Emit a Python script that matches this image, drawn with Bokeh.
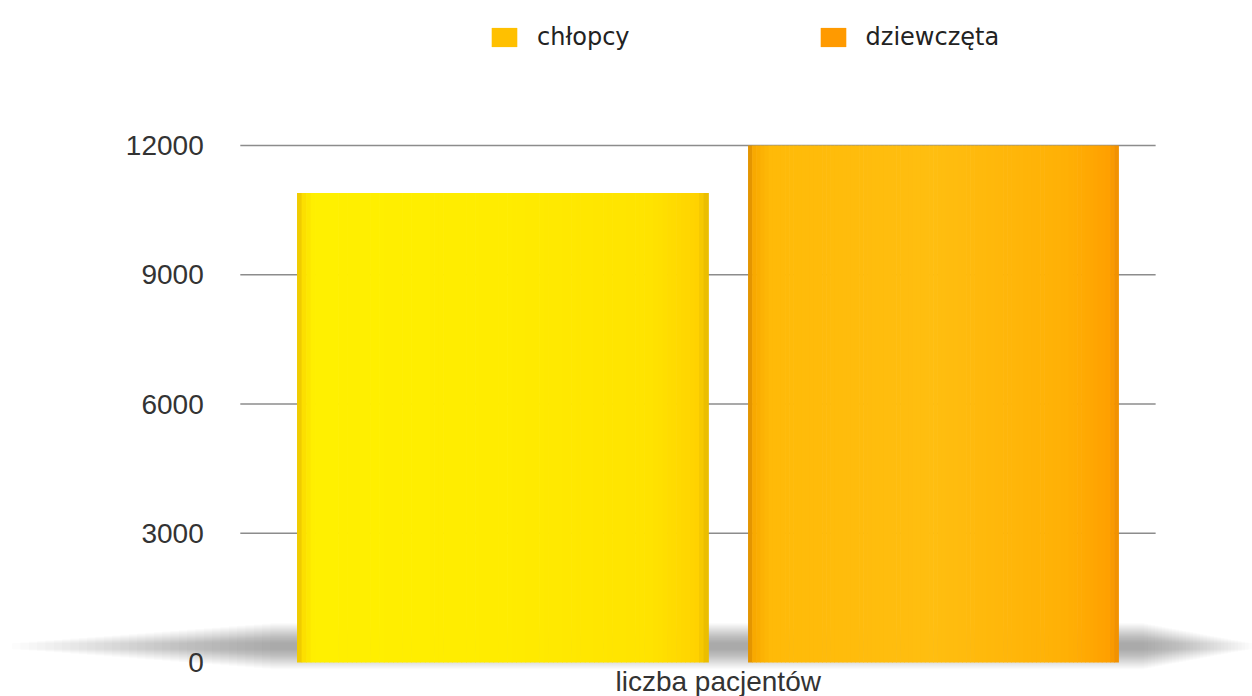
import numpy as np
from bokeh.plotting import figure
from bokeh.models import Range1d, ColumnDataSource, Legend, LegendItem
from bokeh.core.properties import value
from bokeh.embed import file_html
from bokeh.resources import INLINE

# ---- data -------------------------------------------------------------
categories = ["chłopcy", "dziewczęta"]
patients = [10900, 12000]
legend_colors = ["#FFC000", "#FF9A00"]
y_ticks = [0, 3000, 6000, 9000, 12000]
y_tick_labels = ["0", "3000", "6000", "9000", "12000"]
x_title = "liczba pacjentów"

# ---- layout / style constants ----------------------------------------
W, H = 1252, 696
BAR_WIDTHS = [0.955, 0.86]          # front bar a bit wider than the back one
GRID_X = (-0.61, 1.516)             # extent of the horizontal grid lines
TICK_X = -0.695                     # right edge of the y tick labels
SHADOW_X = (-1.14, 1.74)
SHADOW_Y = 380
TITLE_Y = -440
N_SLICES = 90

# horizontal shading of each bar (position across the bar, colour)
SHADES = [
    [(0.0, "#E6BE00"), (0.012, "#FBDC00"), (0.04, "#FFF000"), (0.5, "#FFEC00"),
     (0.86, "#FFE300"), (0.975, "#FFD200"), (1.0, "#E5B800")],
    [(0.0, "#D88A00"), (0.015, "#F8A800"), (0.06, "#FFBA08"), (0.5, "#FFBE10"),
     (0.86, "#FFB005"), (0.975, "#FFA000"), (1.0, "#EE8E00")],
]


def hex_to_rgb(h):
    h = h.lstrip("#")
    return np.array([int(h[i:i + 2], 16) for i in (0, 2, 4)], dtype=float)


def shade_at(stops, t):
    pos = [s[0] for s in stops]
    rgb = np.array([hex_to_rgb(s[1]) for s in stops])
    c = [np.interp(t, pos, rgb[:, k]) for k in range(3)]
    return "#%02x%02x%02x" % tuple(int(round(v)) for v in c)


p = figure(
    width=W, height=H,
    x_range=Range1d(-1.167, 1.741),
    y_range=Range1d(-789, 15366),
    output_backend="svg", toolbar_location=None,
    min_border=0, min_border_left=0, min_border_right=0,
    min_border_top=0, min_border_bottom=0,
)
p.axis.visible = False
p.grid.visible = False
p.outline_line_color = None
p.background_fill_color = "white"
p.border_fill_color = "white"

# soft floor shadow under the bars: thin strokes run furthest, thick ones
# stay close to the bars, so the band tapers towards both ends
n_layers = 32
for k in range(n_layers):
    f = k / (n_layers - 1)
    lw = 6 + 40 * f
    x0 = SHADOW_X[0] + 0.6 * f
    x1 = SHADOW_X[1] - 0.25 * f
    p.segment(x0=[x0], x1=[x1], y0=[SHADOW_Y], y1=[SHADOW_Y],
              line_color="#5a5a5a", line_alpha=0.016, line_width=lw)

# horizontal grid lines (behind the bars)
grid_vals = [t for t in y_ticks if t > 0]
p.segment(x0=[GRID_X[0]] * len(grid_vals), x1=[GRID_X[1]] * len(grid_vals),
          y0=grid_vals, y1=grid_vals, line_color="#8c8c8c", line_width=1.6)

# bars, drawn as thin vertical slices to get the shaded look
for i, (val, bw) in enumerate(zip(patients, BAR_WIDTHS)):
    t = (np.arange(N_SLICES) + 0.5) / N_SLICES
    xs = i - bw / 2 + t * bw
    colors = [shade_at(SHADES[i], tt) for tt in t]
    src = ColumnDataSource(dict(x=xs, top=[val] * N_SLICES, color=colors))
    p.vbar(x="x", width=bw / N_SLICES * 1.15, bottom=0, top="top",
           fill_color="color", line_color=None, source=src)

# y tick labels
p.text(x=[TICK_X] * len(y_ticks), y=y_ticks, text=y_tick_labels,
       text_align="right", text_baseline="middle",
       text_font=value("Liberation Sans"), text_font_size="28px",
       text_color="#333333")

# category axis title
p.text(x=[0.5], y=[TITLE_Y], text=[x_title], text_align="center",
       text_baseline="middle", text_font=value("Liberation Sans"),
       text_font_size="28px", text_color="#333333")

# legend swatches (one NaN row each, so only the legend glyph shows)
legend_items = []
for name, col in zip(categories, legend_colors):
    r = p.quad(left=[np.nan], right=[np.nan], top=[np.nan], bottom=[np.nan],
               fill_color=col, line_color=None)
    legend_items.append(LegendItem(label=name, renderers=[r]))

legend = Legend(
    items=legend_items, orientation="horizontal", location=(488, 645),
    spacing=187, glyph_width=32, glyph_height=24, label_standoff=17,
    padding=0, margin=0, border_line_color=None, background_fill_alpha=0,
    label_text_font="DejaVu Sans", label_text_font_size="24px",
    label_text_color="#222222", label_height=24,
)
p.add_layout(legend)

open("out.html", "w").write(file_html(p, INLINE))
